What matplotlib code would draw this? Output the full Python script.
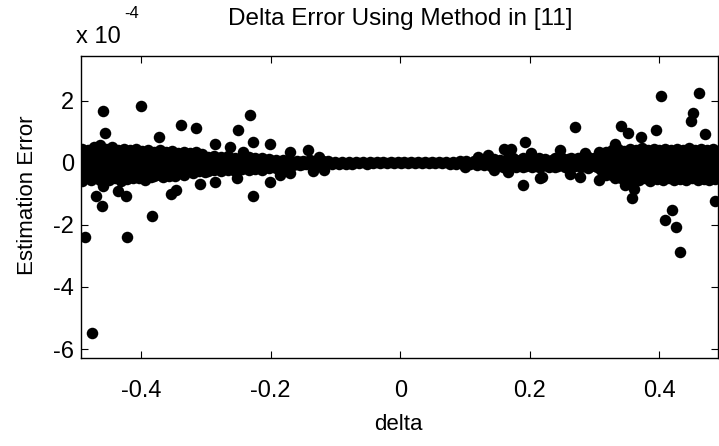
"""
Delta error scatter (estimation error vs delta), MATLAB-style look.
"""
import matplotlib
matplotlib.use("Agg")
import matplotlib.pyplot as plt
import numpy as np
from matplotlib.ticker import FuncFormatter

plt.rcParams["font.family"] = ["Liberation Sans", "DejaVu Sans"]
plt.rcParams["axes.unicode_minus"] = False

SCALE = 1e-4  # errors below are given in units of 1e-4

# ---------------------------------------------------------------------------
# Data
# ---------------------------------------------------------------------------

# dense band, left edge: one x per column, several errors per column
left_x = [-0.491, -0.486, -0.482, -0.477, -0.473, -0.468, -0.463, -0.459,
          -0.454, -0.449, -0.445, -0.440, -0.436, -0.431, -0.426, -0.422,
          -0.417, -0.412, -0.408, -0.403, -0.398, -0.394, -0.389, -0.385,
          -0.380, -0.375, -0.371, -0.366, -0.361, -0.357, -0.352, -0.347,
          -0.343, -0.338, -0.334, -0.329, -0.324, -0.320, -0.315, -0.311,
          -0.306, -0.302]
left_y = [[0.46, 0.20, -0.10, -0.40, -0.58], [0.35, 0.05, -0.25, -0.50],
          [0.40, 0.14, -0.16, -0.44], [0.26, 0.00, -0.30, -0.55],
          [0.50, 0.22, -0.08, -0.36], [0.34, 0.08, -0.22, -0.50],
          [0.56, 0.27, -0.03, -0.33, -0.56], [0.38, 0.10, -0.20, -0.46],
          [0.44, 0.17, -0.13, -0.40], [0.28, 0.02, -0.28, -0.56],
          [0.50, 0.24, -0.06, -0.34], [0.32, 0.06, -0.24, -0.50],
          [0.42, 0.15, -0.15, -0.42], [0.24, -0.02, -0.32, -0.58],
          [0.46, 0.20, -0.10, -0.38], [0.30, 0.04, -0.26, -0.52],
          [0.40, 0.14, -0.16, -0.42], [0.26, 0.00, -0.30, -0.48],
          [0.44, 0.18, -0.12, -0.40], [0.32, 0.05, -0.25, -0.50],
          [0.38, 0.12, -0.18, -0.44], [0.22, -0.04, -0.32, -0.54],
          [0.42, 0.16, -0.14, -0.40], [0.30, 0.03, -0.27, -0.46],
          [0.36, 0.10, -0.20, -0.42], [0.24, -0.02, -0.30],
          [0.40, 0.15, -0.15, -0.38], [0.26, 0.00, -0.26, -0.46],
          [0.34, 0.08, -0.20], [0.20, -0.05, -0.32, -0.44],
          [0.38, 0.12, -0.16], [0.24, -0.02, -0.28, -0.42],
          [0.32, 0.06, -0.22], [0.18, -0.08, -0.34],
          [0.36, 0.10, -0.18, -0.38], [0.22, -0.03, -0.28],
          [0.30, 0.05, -0.20], [0.16, -0.08, -0.32],
          [0.34, 0.10, -0.15], [0.20, -0.04, -0.26],
          [0.28, 0.04, -0.18], [0.14, -0.10, -0.30]]

# band narrowing towards the centre (left side)
midleft_x = [-0.297, -0.292, -0.287, -0.281, -0.276, -0.271, -0.266, -0.260,
             -0.255, -0.250, -0.245, -0.239, -0.234, -0.229, -0.224, -0.218,
             -0.213, -0.208, -0.203, -0.197, -0.192, -0.187, -0.181, -0.176,
             -0.171, -0.166, -0.160, -0.155, -0.150, -0.145]
midleft_y = [[0.20, -0.05, -0.28], [0.10, -0.16], [0.22, 0.00, -0.24],
             [0.12, -0.12], [0.18, -0.05, -0.28], [0.08, -0.18],
             [0.22, 0.02, -0.22], [0.10, -0.10], [0.16, -0.06, -0.26],
             [0.05, -0.18], [0.20, 0.00, -0.20], [0.10, -0.13],
             [0.18, -0.05, -0.24], [0.08, -0.16], [0.14, -0.02, -0.20],
             [0.06, -0.10], [0.16, -0.04, -0.22], [0.08, -0.14],
             [0.12, -0.02, -0.18], [0.05, -0.10], [0.10, -0.06, -0.16],
             [0.04, -0.08], [0.08, -0.03, -0.13], [0.02, -0.08],
             [0.06, -0.04, -0.12], [0.03, -0.06], [0.06, -0.04],
             [0.02, -0.07], [0.05, -0.03], [0.01, -0.05]]

# thin band around delta = 0
center_x = [-0.140, -0.135, -0.131, -0.126, -0.120, -0.116, -0.111, -0.105,
            -0.100, -0.095, -0.090, -0.084, -0.079, -0.074, -0.068, -0.063,
            -0.058, -0.052, -0.047, -0.042, -0.036, -0.031, -0.026, -0.020,
            -0.015, -0.010, -0.004, 0.001, 0.006, 0.012, 0.017, 0.022,
            0.028, 0.033, 0.038, 0.044, 0.049, 0.054, 0.060, 0.065,
            0.070, 0.076, 0.081, 0.086, 0.092, 0.097, 0.102, 0.108,
            0.113, 0.118, 0.124, 0.129, 0.134, 0.140, 0.145, 0.150]
center_y = [0.10, -0.08, 0.06, -0.10, 0.05, -0.06, 0.07, -0.04,
            0.04, -0.05, 0.03, -0.04, 0.02, -0.03, 0.03, -0.02,
            0.02, -0.03, 0.02, -0.02, 0.01, -0.02, 0.01, -0.01,
            0.01, -0.01, 0.01, -0.01, 0.01, -0.01, 0.01, -0.01,
            0.02, -0.01, 0.01, -0.02, 0.02, -0.02, 0.03, -0.02,
            0.02, -0.03, 0.04, -0.03, 0.05, -0.04, 0.06, -0.05,
            0.07, -0.06, 0.09, -0.08, 0.08, -0.10, 0.11, -0.09]

# band widening again (right side)
midright_x = [0.154, 0.159, 0.164, 0.169, 0.174, 0.179, 0.184, 0.189,
              0.194, 0.199, 0.204, 0.209, 0.214, 0.219, 0.224, 0.229,
              0.234, 0.239, 0.244, 0.249, 0.254, 0.259, 0.264, 0.269,
              0.274, 0.279, 0.284, 0.289, 0.294, 0.299, 0.304]
midright_y = [[0.08, -0.06], [0.02, -0.12], [0.12, -0.04], [0.05, -0.10],
              [0.14, -0.02], [0.04, -0.12], [0.10, -0.06],
              [0.16, 0.00, -0.14], [0.07, -0.09], [0.14, -0.02],
              [0.04, -0.12], [0.12, -0.05], [0.16, 0.00, -0.14],
              [0.07, -0.09], [0.13, -0.04], [0.02, -0.13], [0.10, -0.06],
              [0.16, 0.00, -0.14], [0.07, -0.09], [0.14, -0.04],
              [0.04, -0.12], [0.12, -0.05], [0.16, 0.00, -0.14],
              [0.07, -0.09], [0.14, -0.03], [0.04, -0.13], [0.12, -0.05],
              [0.18, 0.00, -0.16], [0.07, -0.10], [0.16, -0.04],
              [0.05, -0.14]]

# dense band, right edge
right_x = [0.309, 0.314, 0.318, 0.323, 0.327, 0.332, 0.336, 0.341, 0.345,
           0.350, 0.354, 0.359, 0.364, 0.368, 0.373, 0.377, 0.382, 0.386,
           0.391, 0.396, 0.400, 0.405, 0.409, 0.414, 0.418, 0.423, 0.427,
           0.432, 0.436, 0.441, 0.445, 0.450, 0.455, 0.459, 0.464, 0.468,
           0.473, 0.477, 0.482, 0.486, 0.491]
right_y = [[0.26, 0.02, -0.22], [0.16, -0.10, -0.34],
           [0.36, 0.12, -0.16, -0.40], [0.22, -0.04, -0.30],
           [0.40, 0.16, -0.12, -0.38], [0.28, 0.00, -0.26, -0.50],
           [0.44, 0.18, -0.10, -0.36], [0.30, 0.04, -0.24, -0.50],
           [0.38, 0.12, -0.18, -0.44], [0.24, -0.02, -0.30, -0.54],
           [0.46, 0.20, -0.10, -0.38], [0.32, 0.05, -0.25, -0.50],
           [0.40, 0.14, -0.16, -0.42], [0.26, 0.00, -0.28, -0.56],
           [0.48, 0.22, -0.08, -0.36], [0.32, 0.06, -0.22, -0.50],
           [0.42, 0.15, -0.15, -0.42], [0.24, -0.02, -0.30, -0.58],
           [0.46, 0.20, -0.10, -0.38], [0.30, 0.04, -0.26, -0.52],
           [0.42, 0.16, -0.14, -0.40], [0.26, 0.00, -0.28, -0.54],
           [0.44, 0.18, -0.12, -0.40], [0.32, 0.06, -0.22, -0.50],
           [0.40, 0.14, -0.16, -0.42], [0.24, -0.02, -0.30, -0.56],
           [0.46, 0.20, -0.10, -0.38], [0.30, 0.04, -0.24, -0.52],
           [0.42, 0.16, -0.14, -0.40], [0.26, 0.00, -0.28, -0.56],
           [0.48, 0.22, -0.08, -0.36], [0.34, 0.08, -0.20, -0.48],
           [0.40, 0.14, -0.16, -0.42], [0.26, 0.00, -0.28, -0.54],
           [0.46, 0.20, -0.10, -0.38], [0.32, 0.05, -0.24, -0.52],
           [0.42, 0.15, -0.15, -0.42], [0.24, -0.02, -0.30, -0.56],
           [0.44, 0.18, -0.12, -0.40], [0.30, 0.04, -0.24, -0.52],
           [0.38, 0.12, -0.18, -0.44]]

# scattered points off the band
sparse_x = [-0.476, -0.487, -0.421, -0.383, -0.469, -0.461, -0.436, -0.423,
            -0.354, -0.346, -0.459, -0.459, -0.400, -0.338, -0.316, -0.372,
            -0.456, -0.232, -0.251, -0.227, -0.227, -0.201, -0.309, -0.286,
            -0.286, -0.263, -0.242, -0.201, -0.170, -0.142, -0.252, -0.185,
            -0.170, -0.135, -0.118, -0.125,
            0.269, 0.193, 0.160, 0.171, 0.190, 0.278, 0.201, 0.247, 0.306,
            0.216, 0.144, 0.167, 0.306, 0.219, 0.262, 0.285, 0.120, 0.100,
            0.135,
            0.403, 0.461, 0.451, 0.448, 0.341, 0.352, 0.395, 0.372, 0.471,
            0.332, 0.485, 0.420, 0.408, 0.425, 0.432, 0.357, 0.347, 0.360,
            0.350]
sparse_y = [-5.48, -2.39, -2.39, -1.71, -1.07, -1.40, -0.90, -1.07,
            -0.99, -0.88, -0.75, 1.68, 1.84, 1.22, 1.11, 0.84,
            0.95, 1.54, 1.05, 0.68, -1.07, -0.61, -0.67, -0.61,
            0.62, 0.52, 0.35, 0.62, 0.35, 0.41, -0.50, -0.40,
            -0.34, -0.28, -0.22, 0.20,
            1.14, 0.68, 0.43, 0.43, -0.72, -0.45, 0.30, 0.41, 0.35,
            -0.50, -0.24, -0.29, -0.56, -0.45, -0.35, 0.32, 0.20, -0.15,
            0.25,
            2.16, 2.24, 1.62, 1.36, 1.18, 0.97, 1.05, 0.84, 0.93,
            0.60, -1.22, -1.53, -1.85, -2.08, -2.87, -1.15, -0.72, -0.83,
            -0.66]

X_TICKS = [-0.4, -0.2, 0, 0.2, 0.4]
Y_TICKS = [-6, -4, -2, 0, 2]


def _columns(xs, cols):
    """Expand (x, [y, y, ...]) columns into flat point lists."""
    px, py = [], []
    for x, ys in zip(xs, cols):
        px.extend([x] * len(ys))
        py.extend(ys)
    return px, py


# ---------------------------------------------------------------------------
# Plot
# ---------------------------------------------------------------------------

all_x, all_y = [], []
for xs, cols in [(left_x, left_y), (midleft_x, midleft_y),
                 (midright_x, midright_y), (right_x, right_y)]:
    px, py = _columns(xs, cols)
    all_x += px
    all_y += py
all_x += center_x + sparse_x
all_y += center_y + sparse_y

fig = plt.figure(figsize=(7.19, 4.46), dpi=100)
# right edge of the axes sits right at the picture border, as in the source
ax = fig.add_axes([0.1127, 0.1973, 0.8866, 0.6778])

ax.plot(all_x, np.array(all_y) * SCALE, "o", color="black",
        markersize=8.3, markeredgewidth=0)

ax.set_xlim(-0.4927, 0.4911)
ax.set_ylim(-6.29 * SCALE, 3.45 * SCALE)
ax.set_xticks(X_TICKS)
ax.set_yticks([v * SCALE for v in Y_TICKS])
ax.xaxis.set_major_formatter(FuncFormatter(lambda v, _: f"{v:g}"))
ax.yaxis.set_major_formatter(FuncFormatter(lambda v, _: f"{v / SCALE:g}"))
ax.tick_params(direction="in", length=5, width=0.8, top=True, right=True,
               labelsize=17)
ax.tick_params(axis="x", pad=16)
ax.tick_params(axis="y", pad=5)
for spine in ax.spines.values():
    spine.set_linewidth(1.0)

fig.text(0.557, 1 - 19 / 446, "Delta Error Using Method in [11]",
         ha="center", va="center", fontsize=17.5)
fig.text(0.5545, 1 - 425 / 446, "delta", ha="center", va="center",
         fontsize=16)
fig.text(28 / 719, 1 - 195 / 446, "Estimation Error", ha="center",
         va="center", rotation=90, fontsize=16)
# MATLAB-style exponent label above the y axis
fig.text(76 / 719, 1 - 37 / 446, "x 10", ha="left", va="center",
         fontsize=17)
fig.text(124 / 719, 1 - 14 / 446, "-4", ha="left", va="center",
         fontsize=12)

fig.savefig("out.png", dpi=100)
